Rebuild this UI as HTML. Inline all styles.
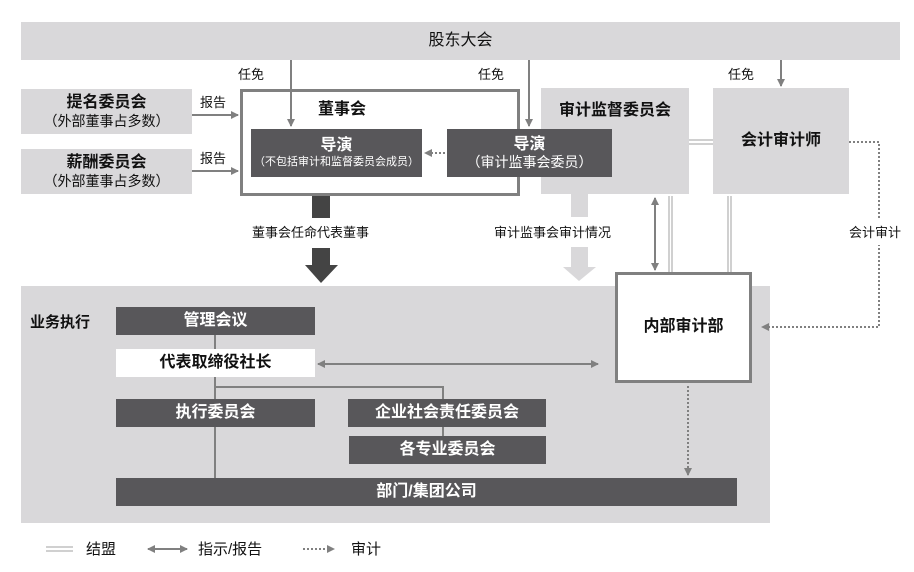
<!DOCTYPE html>
<html><head><meta charset="utf-8"><style>
body{margin:0;width:914px;height:572px;background:#fff;position:relative;overflow:hidden;font-family:"Liberation Sans","Noto Sans CJK SC",sans-serif;color:#111}
.b{position:absolute;box-sizing:border-box;display:flex;flex-direction:column;align-items:center;justify-content:center;text-align:center;line-height:1.15}
.lg{background:#d9d8da}
.dk{background:#58575a;color:#fff;font-weight:bold;font-size:16px}
.t{position:absolute;font-size:13px;white-space:nowrap;line-height:1}
svg{position:absolute;left:0;top:0}
</style></head><body>
<div class="b lg" style="left:21px;top:22px;width:879px;height:38px;font-size:16px">股东大会</div>
<div class="b lg" style="left:21px;top:89px;width:171px;height:45px;font-size:16px;font-weight:bold">提名委员会<span style="font-size:14px;font-weight:normal">（外部董事占多数）</span></div>
<div class="b lg" style="left:21px;top:149px;width:171px;height:45px;font-size:16px;font-weight:bold">薪酬委员会<span style="font-size:14px;font-weight:normal">（外部董事占多数）</span></div>
<div class="b" style="left:240px;top:89px;width:280px;height:107px;border:3px solid #808080;background:#fff"></div>
<div class="t" style="left:318px;top:102px;font-size:16px;font-weight:bold">董事会</div>
<div class="b lg" style="left:541px;top:88px;width:148px;height:106px;justify-content:flex-start;padding-top:14px;font-size:16px;font-weight:bold">审计监督委员会</div>
<div class="b lg" style="left:713px;top:88px;width:136px;height:106px;font-size:16px;font-weight:bold">会计审计师</div>
<div class="b lg" style="left:21px;top:286px;width:749px;height:237px"></div>
<svg width="914" height="572">
<g stroke="#808080" stroke-width="2" fill="none">
<polyline points="215,335 215,478"/>
<polyline points="215,387 443,387 443,399"/>
<line x1="443" y1="427" x2="443" y2="436"/>
</g>
</svg>
<div class="b dk" style="left:251px;top:129px;width:171px;height:48px">导演<span style="font-size:11px;font-weight:normal">（不包括审计和监督委员会成员）</span></div>
<div class="b dk" style="left:447px;top:129px;width:165px;height:48px">导演<span style="font-size:14px;font-weight:normal">（审计监事会委员）</span></div>
<div class="t" style="left:30px;top:315px;font-size:15px;font-weight:bold">业务执行</div>
<div class="b dk" style="left:116px;top:307px;width:199px;height:28px">管理会议</div>
<div class="b" style="left:116px;top:349px;width:199px;height:28px;background:#fff;font-size:16px;font-weight:bold">代表取缔役社长</div>
<div class="b dk" style="left:116px;top:399px;width:199px;height:28px">执行委员会</div>
<div class="b dk" style="left:348px;top:399px;width:198px;height:28px">企业社会责任委员会</div>
<div class="b dk" style="left:349px;top:436px;width:197px;height:28px">各专业委员会</div>
<div class="b dk" style="left:116px;top:478px;width:621px;height:28px">部门/集团公司</div>
<div class="b" style="left:615px;top:272px;width:137px;height:111px;border:3px solid #808080;background:#fff;font-size:16px;font-weight:bold">内部审计部</div>
<svg width="914" height="572">
<defs>
<marker id="a" markerWidth="8" markerHeight="8" refX="7" refY="4" orient="auto" markerUnits="userSpaceOnUse"><path d="M0,0L8,4L0,8z" fill="#808080"/></marker>
<marker id="s" markerWidth="8" markerHeight="8" refX="1" refY="4" orient="auto" markerUnits="userSpaceOnUse"><path d="M8,0L0,4L8,8z" fill="#808080"/></marker>
</defs>
<g stroke="#808080" stroke-width="2" fill="none">
<line x1="291" y1="60" x2="291" y2="126" marker-end="url(#a)"/>
<line x1="529" y1="60" x2="529" y2="126" marker-end="url(#a)"/>
<line x1="781" y1="60" x2="781" y2="86" marker-end="url(#a)"/>
<line x1="192" y1="115" x2="238" y2="115" marker-end="url(#a)"/>
<line x1="192" y1="171" x2="238" y2="171" marker-end="url(#a)"/>
<line x1="445" y1="153" x2="425" y2="153" stroke-dasharray="2,2" marker-end="url(#a)"/>
<line x1="655" y1="198" x2="655" y2="270" marker-start="url(#s)" marker-end="url(#a)"/>
<line x1="318" y1="364" x2="598" y2="364" marker-start="url(#s)" marker-end="url(#a)"/>
<polyline points="849,142 879,142 879,327 762,327" stroke-dasharray="2,2" marker-end="url(#a)"/>
<line x1="688" y1="386" x2="688" y2="475" stroke-dasharray="2,2" marker-end="url(#a)"/>
</g>
<g stroke="#a0a0a0" stroke-width="1">
<line x1="689" y1="140" x2="713" y2="140"/><line x1="689" y1="144" x2="713" y2="144"/>
<line x1="669" y1="196" x2="669" y2="272"/><line x1="672" y1="196" x2="672" y2="272"/>
<line x1="728" y1="196" x2="728" y2="272"/><line x1="731" y1="196" x2="731" y2="272"/>
<line x1="46" y1="547" x2="73" y2="547"/><line x1="46" y1="551" x2="73" y2="551"/>
</g>
<rect x="312" y="196" width="18" height="22" fill="#444"/>
<rect x="312" y="248" width="18" height="17" fill="#444"/>
<path d="M305,265L338,265L321,283z" fill="#444"/>
<rect x="571" y="194" width="17" height="23" fill="#d9d8da"/>
<rect x="571" y="247" width="17" height="20" fill="#d9d8da"/>
<path d="M563,267L596,267L579,281z" fill="#d9d8da"/>
<g stroke="#808080" stroke-width="2" fill="none">
<line x1="148" y1="549" x2="187" y2="549" marker-start="url(#s)" marker-end="url(#a)"/>
<line x1="303" y1="549" x2="334" y2="549" stroke-dasharray="2,2" marker-end="url(#a)"/>
</g>
</svg>
<div class="t" style="left:238px;top:68px">任免</div>
<div class="t" style="left:478px;top:68px">任免</div>
<div class="t" style="left:728px;top:68px">任免</div>
<div class="t" style="left:200px;top:96px">报告</div>
<div class="t" style="left:200px;top:152px">报告</div>
<div class="t" style="left:252px;top:226px">董事会任命代表董事</div>
<div class="t" style="left:494px;top:226px">审计监事会审计情况</div>
<div class="t" style="left:849px;top:220px;background:#fff;padding:6px 0">会计审计</div>
<div class="t" style="left:86px;top:542px;font-size:15px">结盟</div>
<div class="t" style="left:198px;top:542px;font-size:15px">指示/报告</div>
<div class="t" style="left:351px;top:542px;font-size:15px">审计</div>
</body></html>
